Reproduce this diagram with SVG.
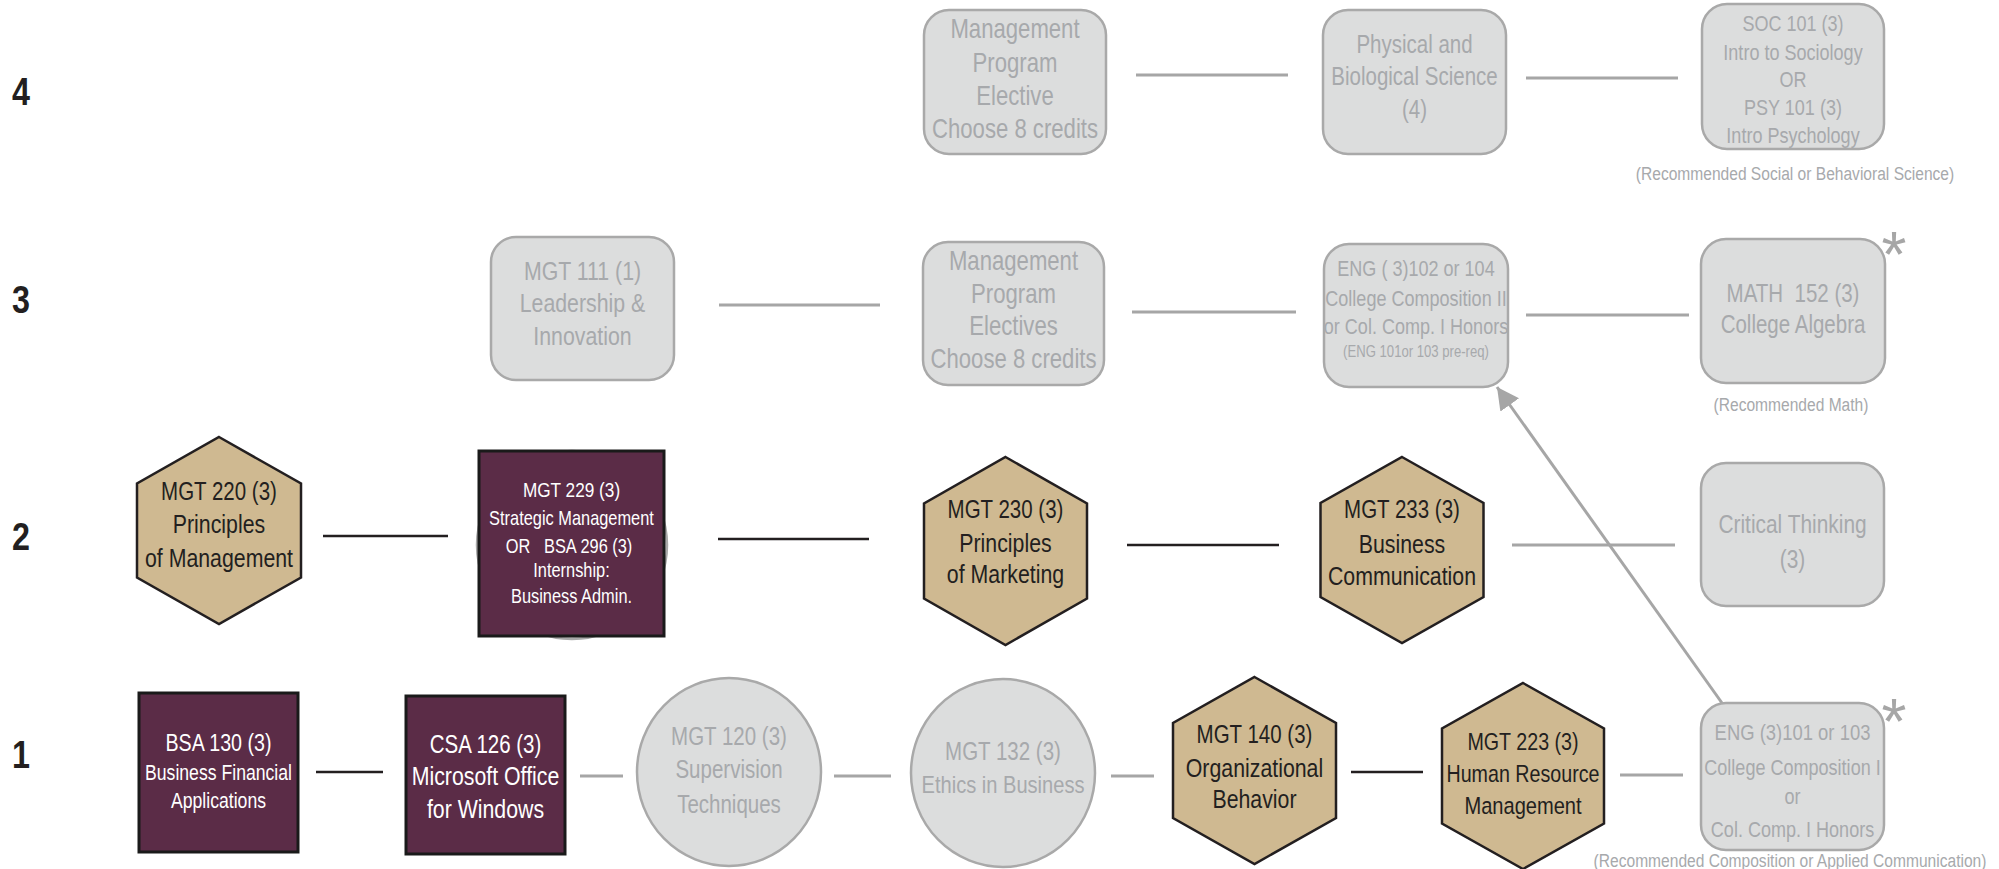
<svg xmlns="http://www.w3.org/2000/svg" width="1999" height="869" viewBox="0 0 1999 869">
<defs>
<style>
text{font-family:"Liberation Sans",Arial,sans-serif;text-anchor:middle;}
.lvl{font-weight:bold;font-size:38px;fill:#231f20;text-anchor:start}
.dk{fill:#231f20}
.wt{fill:#ffffff}
.gt{fill:#a7a9ac}
.hex{fill:#cfb991;stroke:#231f20;stroke-width:2.5}
.sq{fill:#5b2c47;stroke:#1a1a1a;stroke-width:3}
.gbox{fill:#dcdddd;stroke:#a9a9a9;stroke-width:2.5}
.cd{stroke:#231f20;stroke-width:2.5;fill:none}
.cg{stroke:#a6a6a6;stroke-width:3;fill:none}
.cap{fill:#a7a9ac;font-size:19px}
.ast{fill:#a6a6a6;font-size:64px}
</style>
<marker id="ah" markerUnits="userSpaceOnUse" markerWidth="24" markerHeight="24" refX="22" refY="12" orient="auto"><path d="M0,0.5 L22,12 L0,23.5 z" fill="#a6a6a6"/></marker>
</defs>
<rect width="1999" height="869" fill="#ffffff"/>

<g id="levels" transform="translate(12 0) scale(0.85 1)">
<text class="lvl" x="0" y="105">4</text>
<text class="lvl" x="0" y="313">3</text>
<text class="lvl" x="0" y="550">2</text>
<text class="lvl" x="0" y="768">1</text>
</g>

<g id="connectors">
<line class="cg" x1="1136" y1="75" x2="1288" y2="75"/>
<line class="cg" x1="1526" y1="78" x2="1678" y2="78"/>
<line class="cg" x1="719" y1="305" x2="880" y2="305"/>
<line class="cg" x1="1132" y1="312" x2="1296" y2="312"/>
<line class="cg" x1="1526" y1="315" x2="1689" y2="315"/>
<line class="cd" x1="323" y1="536" x2="448" y2="536"/>
<line class="cd" x1="718" y1="539" x2="869" y2="539"/>
<line class="cd" x1="1127" y1="545" x2="1279" y2="545"/>
<line class="cg" x1="1512" y1="545" x2="1675" y2="545"/>
<line class="cd" x1="316" y1="772" x2="383" y2="772"/>
<line class="cg" x1="580" y1="776" x2="623" y2="776"/>
<line class="cg" x1="834" y1="776" x2="891" y2="776"/>
<line class="cg" x1="1111" y1="776" x2="1154" y2="776"/>
<line class="cd" x1="1351" y1="772" x2="1423" y2="772"/>
<line class="cg" x1="1620" y1="775" x2="1683" y2="775"/>
<line class="cg" x1="1722" y1="703" x2="1497" y2="387" stroke-width="2.5" marker-end="url(#ah)"/>
</g>

<g id="n_mpe4">
<rect class="gbox" x="924" y="10" width="182" height="144" rx="25"/>
<g transform="translate(1015 0) scale(0.82 1)">
<text class="gt" font-size="27" x="0" y="38">Management</text>
<text class="gt" font-size="27" x="0" y="72">Program</text>
<text class="gt" font-size="27" x="0" y="105">Elective</text>
<text class="gt" font-size="27" x="0" y="138">Choose 8 credits</text>
</g>
</g>
<g id="n_phys">
<rect class="gbox" x="1323" y="10" width="183" height="144" rx="25"/>
<g transform="translate(1414.5 0) scale(0.82 1)">
<text class="gt" font-size="25" x="0" y="53">Physical and</text>
<text class="gt" font-size="25" x="0" y="85">Biological Science</text>
<text class="gt" font-size="25" x="0" y="118">(4)</text>
</g>
</g>
<g id="n_soc">
<rect class="gbox" x="1702" y="4" width="182" height="145" rx="25"/>
<g transform="translate(1793 0) scale(0.82 1)">
<text class="gt" font-size="22" x="0" y="31">SOC 101 (3)</text>
<text class="gt" font-size="22" x="0" y="60">Intro to Sociology</text>
<text class="gt" font-size="22" x="0" y="87">OR</text>
<text class="gt" font-size="22" x="0" y="115">PSY 101 (3)</text>
<text class="gt" font-size="22" x="0" y="143">Intro Psychology</text>
</g>
<g transform="translate(1795 0) scale(0.82 1)">
<text class="cap" x="0" y="180">(Recommended Social or Behavioral Science)</text>
</g>
</g>

<g id="n_mgt111">
<rect class="gbox" x="491" y="237" width="183" height="143" rx="25"/>
<g transform="translate(582.5 0) scale(0.82 1)">
<text class="gt" font-size="26" x="0" y="280">MGT 111 (1)</text>
<text class="gt" font-size="26" x="0" y="312">Leadership &amp;</text>
<text class="gt" font-size="26" x="0" y="345">Innovation</text>
</g>
</g>
<g id="n_mpe3">
<rect class="gbox" x="923" y="242" width="181" height="143" rx="25"/>
<g transform="translate(1013.5 0) scale(0.82 1)">
<text class="gt" font-size="27" x="0" y="270">Management</text>
<text class="gt" font-size="27" x="0" y="303">Program</text>
<text class="gt" font-size="27" x="0" y="335">Electives</text>
<text class="gt" font-size="27" x="0" y="368">Choose 8 credits</text>
</g>
</g>
<g id="n_eng102">
<rect class="gbox" x="1324" y="244" width="184" height="143" rx="25"/>
<g transform="translate(1416 0) scale(0.82 1)">
<text class="gt" font-size="22" x="0" y="276" xml:space="preserve">ENG ( 3)102 or 104</text>
<text class="gt" font-size="22" x="0" y="306">College Composition II</text>
<text class="gt" font-size="22" x="0" y="334">or Col. Comp. I Honors</text>
<text class="gt" font-size="16" x="0" y="357">(ENG 101or 103 pre-req)</text>
</g>
</g>
<g id="n_math">
<rect class="gbox" x="1701" y="239" width="184" height="144" rx="25"/>
<g transform="translate(1793 0) scale(0.82 1)">
<text class="gt" font-size="25" x="0" y="302" xml:space="preserve">MATH  152 (3)</text>
<text class="gt" font-size="25" x="0" y="333">College Algebra</text>
</g>
<text class="ast" x="1894" y="277">*</text>
<g transform="translate(1791 0) scale(0.82 1)">
<text class="cap" x="0" y="411">(Recommended Math)</text>
</g>
</g>

<g id="n_mgt220">
<polygon class="hex" points="219,437 301,483.5 301,577.5 219,624 137,577.5 137,483.5"/>
<g transform="translate(219 0) scale(0.82 1)">
<text class="dk" font-size="25" x="0" y="500">MGT 220 (3)</text>
<text class="dk" font-size="26" x="0" y="533">Principles</text>
<text class="dk" font-size="26" x="0" y="567">of Management</text>
</g>
</g>
<g id="n_mgt229">
<ellipse class="gbox" cx="572" cy="545" rx="95" ry="94"/>
<rect class="sq" x="479" y="451" width="185" height="185"/>
<g transform="translate(571.5 0) scale(0.82 1)">
<text class="wt" font-size="21" x="0" y="497">MGT 229 (3)</text>
<text class="wt" font-size="20" x="0" y="525">Strategic Management</text>
<text class="wt" font-size="20" x="-3" y="553" xml:space="preserve">OR   BSA 296 (3)</text>
<text class="wt" font-size="20" x="0" y="577">Internship:</text>
<text class="wt" font-size="20" x="0" y="603">Business Admin.</text>
</g>
</g>
<g id="n_mgt230">
<polygon class="hex" points="1005.5,457 1087,503.5 1087,598.5 1005.5,645 924,598.5 924,503.5"/>
<g transform="translate(1005.5 0) scale(0.82 1)">
<text class="dk" font-size="25" x="0" y="518">MGT 230 (3)</text>
<text class="dk" font-size="26" x="0" y="552">Principles</text>
<text class="dk" font-size="26" x="0" y="583">of Marketing</text>
</g>
</g>
<g id="n_mgt233">
<polygon class="hex" points="1402,457 1483.5,503 1483.5,597 1402,643 1320.5,597 1320.5,503"/>
<g transform="translate(1402 0) scale(0.82 1)">
<text class="dk" font-size="25" x="0" y="518">MGT 233 (3)</text>
<text class="dk" font-size="26" x="0" y="553">Business</text>
<text class="dk" font-size="26" x="0" y="585">Communication</text>
</g>
</g>
<g id="n_crit">
<rect class="gbox" x="1701" y="463" width="183" height="143" rx="25"/>
<g transform="translate(1792.5 0) scale(0.82 1)">
<text class="gt" font-size="25.5" x="0" y="533">Critical Thinking</text>
<text class="gt" font-size="25.5" x="0" y="568">(3)</text>
</g>
</g>

<g id="n_bsa130">
<rect class="sq" x="139" y="693" width="159" height="159"/>
<g transform="translate(218.5 0) scale(0.82 1)">
<text class="wt" font-size="24" x="0" y="751">BSA 130 (3)</text>
<text class="wt" font-size="21.5" x="0" y="780">Business Financial</text>
<text class="wt" font-size="21.5" x="0" y="808">Applications</text>
</g>
</g>
<g id="n_csa126">
<rect class="sq" x="406" y="696" width="159" height="158"/>
<g transform="translate(485.5 0) scale(0.82 1)">
<text class="wt" font-size="25" x="0" y="753">CSA 126 (3)</text>
<text class="wt" font-size="26" x="0" y="785">Microsoft Office</text>
<text class="wt" font-size="26" x="0" y="818">for Windows</text>
</g>
</g>
<g id="n_mgt120">
<ellipse class="gbox" cx="729" cy="772" rx="92" ry="94"/>
<g transform="translate(729 0) scale(0.82 1)">
<text class="gt" font-size="25" x="0" y="745">MGT 120 (3)</text>
<text class="gt" font-size="25" x="0" y="778">Supervision</text>
<text class="gt" font-size="25" x="0" y="813">Techniques</text>
</g>
</g>
<g id="n_mgt132">
<ellipse class="gbox" cx="1003" cy="773" rx="92" ry="94"/>
<g transform="translate(1003 0) scale(0.82 1)">
<text class="gt" font-size="25" x="0" y="760">MGT 132 (3)</text>
<text class="gt" font-size="24.5" x="0" y="793">Ethics in Business</text>
</g>
</g>
<g id="n_mgt140">
<polygon class="hex" points="1254.5,677 1336,723 1336,818 1254.5,864 1173,818 1173,723"/>
<g transform="translate(1254.5 0) scale(0.82 1)">
<text class="dk" font-size="25" x="0" y="743">MGT 140 (3)</text>
<text class="dk" font-size="26" x="0" y="777">Organizational</text>
<text class="dk" font-size="26" x="0" y="808">Behavior</text>
</g>
</g>
<g id="n_mgt223">
<polygon class="hex" points="1523,683 1604,728.5 1604,823.5 1523,869 1442,823.5 1442,728.5"/>
<g transform="translate(1523 0) scale(0.82 1)">
<text class="dk" font-size="24" x="0" y="750">MGT 223 (3)</text>
<text class="dk" font-size="24" x="0" y="782">Human Resource</text>
<text class="dk" font-size="24.5" x="0" y="814">Management</text>
</g>
</g>
<g id="n_eng101">
<rect class="gbox" x="1701" y="703" width="183" height="147" rx="25"/>
<g transform="translate(1792.5 0) scale(0.82 1)">
<text class="gt" font-size="22.5" x="0" y="740">ENG (3)101 or 103</text>
<text class="gt" font-size="22" x="0" y="775">College Composition I</text>
<text class="gt" font-size="22" x="0" y="804">or</text>
<text class="gt" font-size="22" x="0" y="837">Col. Comp. I Honors</text>
</g>
<text class="ast" x="1894" y="744">*</text>
<g transform="translate(1790 0) scale(0.82 1)">
<text class="cap" font-size="19.5" x="0" y="867">(Recommended Composition or Applied Communication)</text>
</g>
</g>
</svg>
